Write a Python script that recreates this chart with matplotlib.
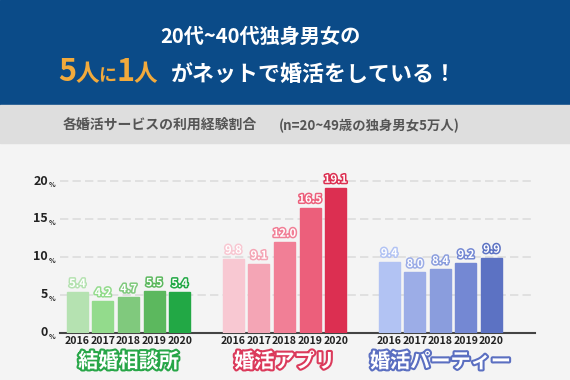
import matplotlib
matplotlib.use("Agg")
import matplotlib.pyplot as plt
import matplotlib.patheffects as pe
from matplotlib.patches import Rectangle

plt.rcParams['font.family'] = ['Noto Sans CJK JP', 'DejaVu Sans']
plt.rcParams['font.weight'] = 'bold'

# data
groups = ["結婚相談所", "婚活アプリ", "婚活パーティー"]
years = ["2016", "2017", "2018", "2019", "2020"]
soudanjo = [5.4, 4.2, 4.7, 5.5, 5.4]
app = [9.8, 9.1, 12.0, 16.5, 19.1]
party = [9.4, 8.0, 8.4, 9.2, 9.9]
yticks = [0, 5, 10, 15, 20]

green = ["#b5e2b1", "#93db8c", "#80c97d", "#5cb85e", "#22a845"]
pink = ["#f8c8d2", "#f4a5b5", "#f17f96", "#ec5f7b", "#dc2f51"]
blue = ["#b2c3f3", "#9cade7", "#8a9ddd", "#7488d3", "#5c72c3"]
label_cols = ["#28a648", "#db3a5b", "#5b6fc1"]

W, H = 570, 380
fig = plt.figure(figsize=(W / 100, H / 100), dpi=100)
fig.patch.set_facecolor("#f4f4f4")


def fx(px):
    return px / W


def fy(py):
    return 1 - py / H


# header bands
fig.patches.append(Rectangle((0, fy(105)), 1, 105 / H, transform=fig.transFigure,
                             color="#0b4b88", zorder=0))
fig.patches.append(Rectangle((0, fy(143)), 1, 38 / H, transform=fig.transFigure,
                             color="#dedede", zorder=0))

fig.text(fx(260), fy(36), "20代~40代独身男女の", color="white", fontsize=14.5,
         ha="center", va="center")

# second title line, pieces laid out one after another
orange = "#f2aa3c"
base = fy(81)
pieces = [("5", 22, orange, 0), ("人", 17, orange, -1), ("に", 13, orange, 0),
          ("1", 22, orange, 0), ("人", 17, orange, -1),
          ("がネットで婚活をしている！", 15.8, "white", 14)]
renderer = fig.canvas.get_renderer()
x = 58
for s, fs, c, gap in pieces:
    x += gap
    t = fig.text(fx(x), base, s, color=c, fontsize=fs, ha="left", va="baseline")
    x += t.get_window_extent(renderer).width

fig.text(fx(63), fy(125), "各婚活サービスの利用経験割合", color="#555555",
         fontsize=10, ha="left", va="center")
fig.text(fx(279), fy(126), "(n=20~49歳の独身男女5万人)", color="#555555",
         fontsize=9.6, ha="left", va="center")

# chart
ax = fig.add_axes([fx(60), fy(333), 475 / W, 159.6 / H])
ax.set_facecolor("none")
step = 6.1
series = [soudanjo, app, party]
palettes = [green, pink, blue]
xpos = []
for g, (vals, cols) in enumerate(zip(series, palettes)):
    xs = [g * step + i for i in range(len(vals))]
    xpos += xs
    bars = ax.bar(xs, vals, width=0.82, color=cols, zorder=3)
    for b, v, c in zip(bars, vals, cols):
        b.set_edgecolor(c)
        ax.annotate(f"{v:.1f}", (b.get_x() + b.get_width() / 2, v),
                    xytext=(0, 1.5), textcoords="offset points",
                    ha="center", va="bottom", color="white", fontsize=8,
                    zorder=4,
                    path_effects=[pe.withStroke(linewidth=2.2, foreground=c)])
    ax.text(g * step + 2, -3.7, groups[g], ha="center", va="center",
            color="white", fontsize=14.5,
            path_effects=[pe.withStroke(linewidth=3, foreground=label_cols[g])])

ax.set_xlim(-0.68, 17.9)
ax.set_ylim(0, 21)
ax.set_xticks(xpos)
ax.set_xticklabels(years * 3, fontsize=7.6, color="#222222")
ax.tick_params(axis="x", length=0, pad=2)
ax.set_yticks(yticks)
ax.set_yticklabels([])
ax.tick_params(axis="y", length=0)
ax.yaxis.grid(True, color="#dddddd", linestyle=(0, (5, 2.5)), linewidth=1.2)
ax.set_axisbelow(True)
for s in ["top", "right", "left"]:
    ax.spines[s].set_visible(False)
ax.spines["bottom"].set_color("#444444")
ax.spines["bottom"].set_linewidth(1.5)

for t in yticks:
    ax.text(-0.025, t, str(t), transform=ax.get_yaxis_transform(), ha="right",
            va="center", fontsize=9, color="#222222")
    ax.text(-0.024, t - 0.4, "%", transform=ax.get_yaxis_transform(), ha="left",
            va="center", fontsize=5, color="#222222")

fig.savefig("out.png", dpi=100, facecolor=fig.get_facecolor())
